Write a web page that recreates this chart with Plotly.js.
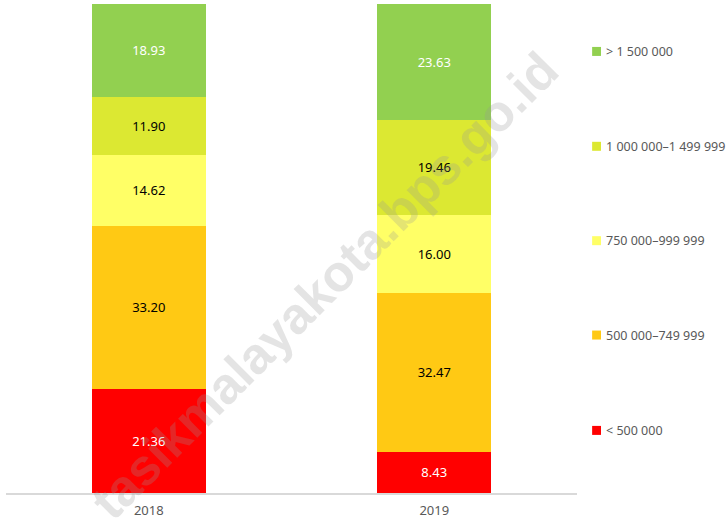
<!DOCTYPE html>
<html>
<head>
<meta charset="utf-8">
<script src="https://cdn.plot.ly/plotly-3.0.1.min.js"></script>
<style>html,body{margin:0;padding:0;background:#fff;}#chart{width:728px;height:521px;}</style>
</head>
<body>
<div id="chart"></div>
<script>
const years = ["2018", "2019"];
const seriesNames = ["< 500 000", "500 000–749 999", "750 000–999 999", "1 000 000–1 499 999", "> 1 500 000"];
const seriesColors = ["#FF0000", "#FFC914", "#FFFF66", "#DCE832", "#92D050"];
const labelColors = ["#FFFFFF", "#000000", "#000000", "#000000", "#FFFFFF"];
const under500 = [21.36, 8.43];
const from500to749 = [33.20, 32.47];
const from750to999 = [14.62, 16.00];
const from1000to1499 = [11.90, 19.46];
const over1500 = [18.93, 23.63];
const seriesValues = [under500, from500to749, from750to999, from1000to1499, over1500];

const font = "Noto Sans, Open Sans, sans-serif";

const traces = seriesValues.map((vals, i) => ({
  type: "bar",
  x: years,
  y: vals,
  name: seriesNames[i],
  marker: {color: seriesColors[i], line: {width: 0}},
  text: vals.map(v => v.toFixed(2)),
  texttemplate: "%{text}",
  textposition: "inside",
  insidetextanchor: "middle",
  textangle: 0,
  constraintext: "none",
  textfont: {family: font, size: 13, color: labelColors[i]},
  hoverinfo: "skip",
  showlegend: false,
  width: 0.4
}));

// Manual legend (items spaced evenly down the right side)
const legendY = [0.903, 0.709, 0.516, 0.323, 0.128];
const shapes = [];
const annotations = [];
for (let k = 0; k < seriesNames.length; k++) {
  const i = seriesNames.length - 1 - k;
  const yc = legendY[k];
  shapes.push({
    type: "rect", xref: "paper", yref: "paper",
    x0: 1.0265, x1: 1.042, y0: yc - 0.0092, y1: yc + 0.0092,
    fillcolor: seriesColors[i], line: {width: 0}
  });
  annotations.push({
    xref: "paper", yref: "paper", x: 1.0465, y: yc,
    xanchor: "left", yanchor: "middle", showarrow: false,
    text: seriesNames[i],
    font: {family: font, size: 12.5, color: "#595959"}
  });
}
// watermark
annotations.push({
  xref: "paper", yref: "paper", x: 0.558, y: 0.425,
  xanchor: "center", yanchor: "middle", showarrow: false,
  text: "<b>tasikmalayakota.bps.go.id</b>",
  textangle: -45,
  font: {family: "Liberation Sans, Arial, sans-serif", size: 51, color: "rgba(150,150,150,0.26)"}
});

const layout = {
  width: 728, height: 521,
  margin: {l: 6, r: 151, t: 4, b: 28},
  paper_bgcolor: "#ffffff",
  plot_bgcolor: "#ffffff",
  barmode: "stack",
  showlegend: false,
  xaxis: {
    type: "category",
    range: [-0.5, 1.5],
    showline: true, linecolor: "#d9d9d9", linewidth: 1.5,
    showgrid: false, zeroline: false, ticks: "",
    ticklabelstandoff: 5,
    tickfont: {family: font, size: 13, color: "#595959"},
    fixedrange: true
  },
  yaxis: {
    range: [0, 100],
    visible: false,
    showgrid: false, zeroline: false,
    fixedrange: true
  },
  shapes: shapes,
  annotations: annotations
};

Plotly.newPlot("chart", traces, layout, {displayModeBar: false, staticPlot: true});
</script>
</body>
</html>
